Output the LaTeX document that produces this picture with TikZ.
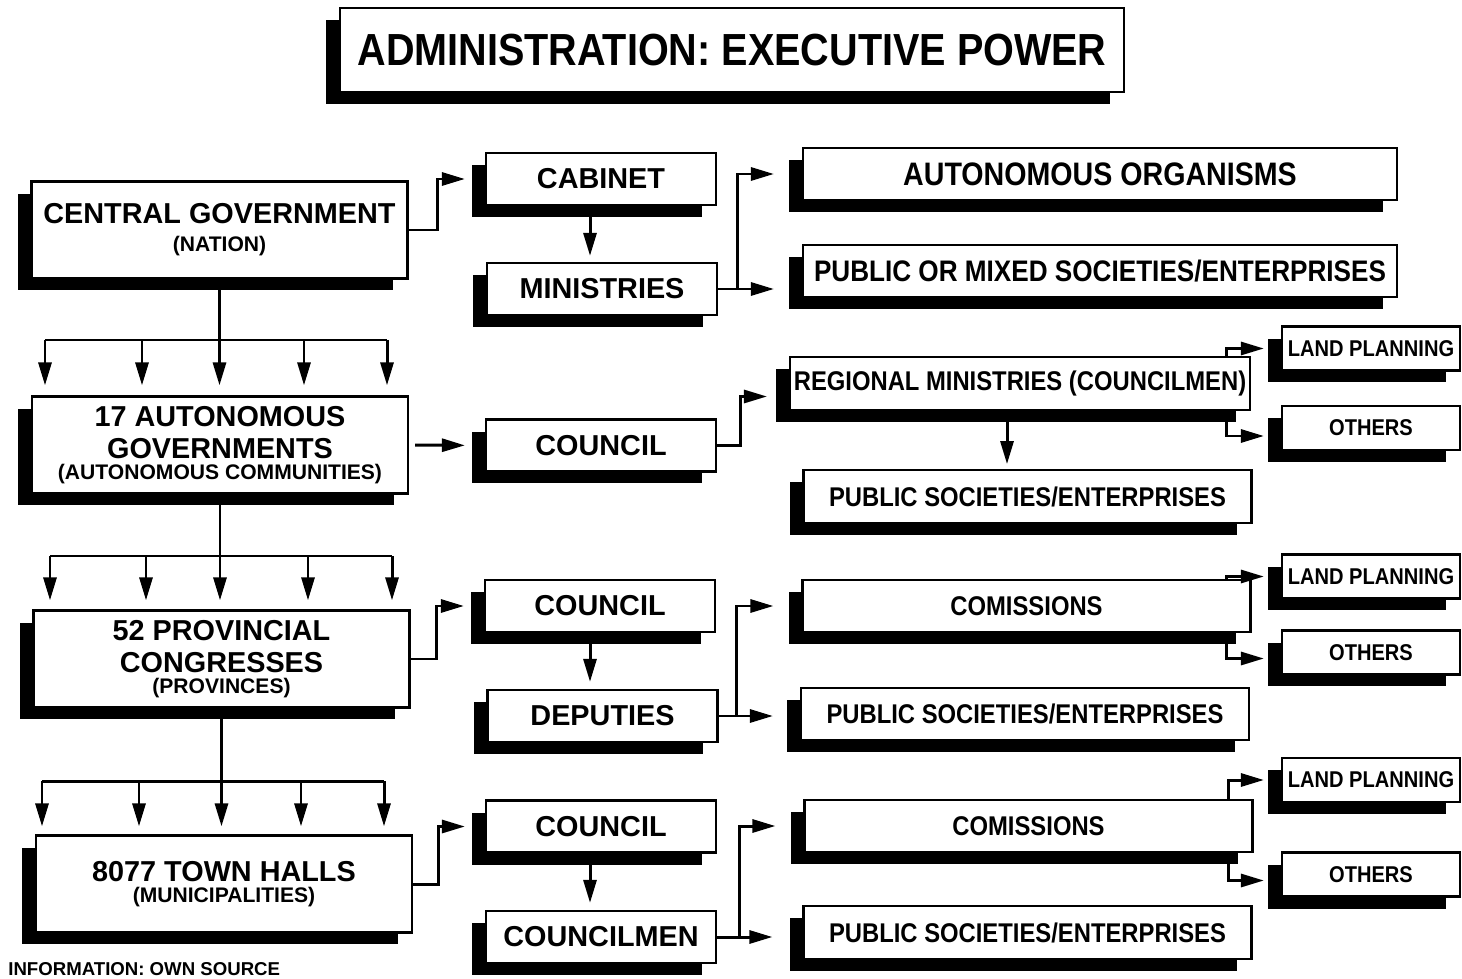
\documentclass[tikz,border=0pt]{standalone}
\usepackage{fontspec}
\setmainfont{Liberation Sans}
\newfontfamily\narrowfont{Liberation Sans}[FakeStretch=0.88]
\usetikzlibrary{arrows.meta,shadows,calc}

\newcommand\fsz[2]{\fontsize{#1pt}{#2pt}\selectfont}

\tikzset{
  box/.style={draw, line width=1.3pt, fill=white, inner sep=0pt, align=center,
    font=\bfseries\fsz{16.4}{18},
    drop shadow={shadow xshift=-0.28cm, shadow yshift=-0.24cm, fill=black, opacity=1}},
  lvl/.style={box, minimum width=7.52cm, minimum height=1.94cm},
  mid/.style={box, minimum width=4.6cm, minimum height=1.04cm},
  wide/.style={box, minimum width=8.96cm, minimum height=1.05cm,
    font=\narrowfont\bfseries\fsz{15.4}{17}},
  small/.style={box, minimum width=3.56cm, minimum height=0.88cm,
    font=\narrowfont\bfseries\fsz{13}{14}},
  link/.style={line width=1.7pt},
  arr/.style={link, -{Triangle[length=0.46cm, width=0.26cm]}}
}

\begin{document}
\begin{tikzpicture}[x=0.02cm, y=-0.02cm]
  \useasboundingbox (0,0) rectangle (1462,979);

  \node[box, minimum width=15.68cm, minimum height=1.68cm,
    font=\narrowfont\bfseries\fsz{25.6}{28}] (title) at (732,50)
    {ADMINISTRATION: EXECUTIVE POWER};

  % levels
  \node[lvl] (cg) at (219.5,230) {CENTRAL GOVERNMENT\\[-2pt]{\fsz{12}{12}(NATION)}};
  \node[lvl] (ag) at (220,445) {17 AUTONOMOUS\\GOVERNMENTS\\[-6pt]{\fsz{12}{12}(AUTONOMOUS COMMUNITIES)}};
  \node[lvl] (pc) at (221.5,659) {52 PROVINCIAL\\CONGRESSES\\[-6pt]{\fsz{12}{12}(PROVINCES)}};
  \node[lvl] (th) at (224,884) {8077 TOWN HALLS\\[-6pt]{\fsz{12}{12}(MUNICIPALITIES)}};

  % middle column
  \node[mid] (cab) at (601,179) {CABINET};
  \node[mid] (min) at (602,289) {MINISTRIES};
  \node[mid] (cou1) at (601,445.5) {COUNCIL};
  \node[mid] (cou2) at (600,606) {COUNCIL};
  \node[mid] (dep) at (602.5,716) {DEPUTIES};
  \node[mid] (cou3) at (601,826.5) {COUNCIL};
  \node[mid] (cm) at (601,937) {COUNCILMEN};

  % right column
  \node[wide, minimum width=11.88cm, font=\narrowfont\bfseries\fsz{18.5}{20}] (ao) at (1100,174) {AUTONOMOUS ORGANISMS};
  \node[wide, minimum width=11.88cm, font=\narrowfont\bfseries\fsz{16.9}{18}] (pom) at (1100,271) {PUBLIC OR MIXED SOCIETIES/ENTERPRISES};
  \node[wide, minimum width=9.2cm] (reg) at (1020,383.5) {REGIONAL MINISTRIES (COUNCILMEN)};
  \node[wide] (ps1) at (1027.5,496.5) {PUBLIC SOCIETIES/ENTERPRISES};
  \node[wide] (com2) at (1026.5,606) {COMISSIONS};
  \node[wide] (ps2) at (1025,714) {PUBLIC SOCIETIES/ENTERPRISES};
  \node[wide] (com3) at (1028.5,826) {COMISSIONS};
  \node[wide] (ps3) at (1027.5,932.5) {PUBLIC SOCIETIES/ENTERPRISES};

  \node[small] (lp1) at (1371,348.5) {LAND PLANNING};
  \node[small] (ot1) at (1371,428) {OTHERS};
  \node[small] (lp2) at (1371,576.5) {LAND PLANNING};
  \node[small] (ot2) at (1371,652.5) {OTHERS};
  \node[small] (lp3) at (1371,780) {LAND PLANNING};
  \node[small] (ot3) at (1371,874.5) {OTHERS};

  \node[anchor=west, inner sep=0pt, font=\bfseries\fsz{10.6}{12}] (src) at (8,969) {INFORMATION: OWN SOURCE};

  % hierarchy
  \draw[link] (cg.south) -- ++(0,62) (45,340) -- (387,340);
  \foreach \x in {45,142,219.5,304,387}
    \draw[arr, shorten >=0.2cm] (\x,340) -- (ag.north -| \x,340);
  \draw[link] (ag.south) -- ++(0,63) (50,556) -- (392,556);
  \foreach \x in {50,146,220,308,392}
    \draw[arr, shorten >=0.18cm] (\x,556) -- (pc.north -| \x,556);
  \draw[link] (pc.south) -- ++(0,73) (42,781) -- (384,781);
  \foreach \x in {42,139,221.5,301,384}
    \draw[arr, shorten >=0.16cm] (\x,781) -- (th.north -| \x,781);

  % central government
  \draw[arr, shorten >=0.4cm] (cg.east) -- ++(29,0) |- (cab.west);
  \draw[arr, shorten >=0.12cm] ([xshift=-0.22cm]cab.south) -- ([xshift=-0.22cm]cab.south |- min.north);
  \draw[arr, shorten >=0.56cm] (min.east) -- ++(19,0) |- (ao.west);
  \draw[arr, shorten >=0.56cm] (min.east) -- (min.east -| pom.west);

  % autonomous governments
  \draw[arr, shorten <=0.12cm, shorten >=0.4cm] (ag.east) -- (cou1.west);
  \draw[arr, shorten >=0.44cm] (cou1.east) -- ++(23,0) |- ($(reg.west)+(0,13)$);
  \draw[arr, shorten >=0.1cm] ([xshift=-0.26cm]reg.south) -- ([xshift=-0.26cm]reg.south |- ps1.north);
  \draw[arr, shorten >=0.34cm] ([xshift=-0.5cm]reg.north east) |- (lp1.west);
  \draw[arr, shorten >=0.34cm] ([xshift=-0.5cm]reg.south east) |- ($(ot1.west)+(0,8)$);

  % provincial congresses
  \draw[arr, shorten >=0.4cm] (pc.east) -- ++(26,0) |- (cou2.west);
  \draw[arr, shorten >=0.14cm] ([xshift=-0.2cm]cou2.south) -- ([xshift=-0.2cm]cou2.south |- dep.north);
  \draw[arr, shorten >=0.56cm] (dep.east) -- ++(18,0) |- (com2.west);
  \draw[arr, shorten >=0.54cm] (dep.east) -- (dep.east -| ps2.west);
  \draw[arr, shorten >=0.34cm] ([xshift=-0.5cm]com2.north east) |- (lp2.west);
  \draw[arr, shorten >=0.34cm] ([xshift=-0.5cm]com2.south east) |- ($(ot2.west)+(0,6)$);

  % town halls
  \draw[arr, shorten >=0.4cm] (th.east) -- ++(25,0) |- (cou3.west);
  \draw[arr, shorten >=0.14cm] ([xshift=-0.22cm]cou3.south) -- ([xshift=-0.22cm]cou3.south |- cm.north);
  \draw[arr, shorten >=0.56cm] (cm.east) -- ++(22,0) |- (com3.west);
  \draw[arr, shorten >=0.6cm] (cm.east) -- (cm.east -| ps3.west);
  \draw[arr, shorten >=0.34cm] ([xshift=-0.5cm]com3.north east) |- (lp3.west);
  \draw[arr, shorten >=0.34cm] ([xshift=-0.5cm]com3.south east) |- ($(ot3.west)+(0,6)$);
\end{tikzpicture}
\end{document}
